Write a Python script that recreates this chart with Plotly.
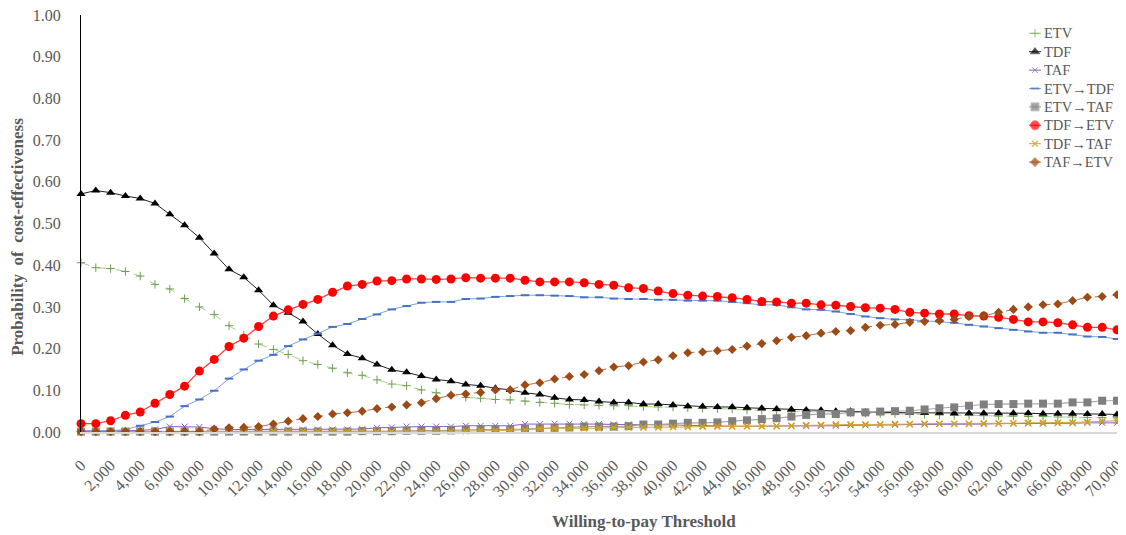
import plotly.graph_objects as go

# Willingness-to-pay thresholds (0 .. 70,000 step 1,000)
wtp = [i * 1000 for i in range(71)]
tick_vals = [i * 2000 for i in range(36)]
tick_labels = ["{:,}".format(v) for v in tick_vals]

etv = [0.406, 0.394, 0.392, 0.385, 0.374, 0.354, 0.343, 0.320, 0.300, 0.282,
       0.255, 0.232, 0.211, 0.198, 0.186, 0.171, 0.162, 0.153, 0.142, 0.136,
       0.125, 0.115, 0.111, 0.101, 0.094, 0.089, 0.083, 0.081, 0.078, 0.077,
       0.074, 0.071, 0.069, 0.066, 0.065, 0.064, 0.063, 0.063, 0.061, 0.060,
       0.060, 0.058, 0.057, 0.056, 0.055, 0.053, 0.052, 0.051, 0.050, 0.049,
       0.048, 0.047, 0.046, 0.045, 0.044, 0.044, 0.043, 0.042, 0.041, 0.040,
       0.040, 0.039, 0.038, 0.038, 0.037, 0.037, 0.036, 0.036, 0.035, 0.035,
       0.034]

tdf = [0.571, 0.579, 0.574, 0.566, 0.560, 0.548, 0.522, 0.496, 0.466, 0.428,
       0.390, 0.371, 0.340, 0.304, 0.286, 0.265, 0.235, 0.208, 0.187, 0.177,
       0.162, 0.149, 0.143, 0.134, 0.126, 0.122, 0.114, 0.111, 0.105, 0.101,
       0.094, 0.090, 0.082, 0.078, 0.077, 0.073, 0.071, 0.071, 0.067, 0.067,
       0.065, 0.062, 0.061, 0.060, 0.060, 0.058, 0.057, 0.055, 0.054, 0.053,
       0.052, 0.050, 0.050, 0.048, 0.047, 0.047, 0.046, 0.046, 0.046, 0.045,
       0.045, 0.045, 0.045, 0.045, 0.045, 0.044, 0.044, 0.044, 0.043, 0.043,
       0.042]

taf = [0.002, 0.002, 0.003, 0.003, 0.004, 0.006, 0.013, 0.013, 0.012, 0.008,
       0.006, 0.006, 0.006, 0.006, 0.006, 0.006, 0.006, 0.006, 0.006, 0.007,
       0.010, 0.011, 0.013, 0.013, 0.013, 0.013, 0.015, 0.015, 0.015, 0.015,
       0.019, 0.019, 0.020, 0.020, 0.019, 0.019, 0.018, 0.018, 0.018, 0.017,
       0.017, 0.016, 0.015, 0.015, 0.014, 0.014, 0.014, 0.014, 0.014, 0.014,
       0.015, 0.015, 0.016, 0.016, 0.017, 0.017, 0.018, 0.018, 0.019, 0.019,
       0.019, 0.019, 0.020, 0.020, 0.020, 0.020, 0.021, 0.021, 0.022, 0.022,
       0.022]

etv_tdf = [0.003, 0.003, 0.003, 0.006, 0.015, 0.024, 0.037, 0.062, 0.078, 0.099,
           0.128, 0.150, 0.171, 0.185, 0.206, 0.222, 0.236, 0.252, 0.259, 0.271,
           0.282, 0.294, 0.302, 0.310, 0.312, 0.312, 0.319, 0.320, 0.324, 0.326,
           0.328, 0.328, 0.327, 0.326, 0.323, 0.323, 0.320, 0.319, 0.319, 0.317,
           0.317, 0.315, 0.315, 0.315, 0.312, 0.309, 0.305, 0.305, 0.299, 0.294,
           0.293, 0.289, 0.283, 0.277, 0.273, 0.270, 0.269, 0.267, 0.265, 0.262,
           0.257, 0.253, 0.249, 0.245, 0.241, 0.238, 0.238, 0.234, 0.229, 0.228,
           0.223]

etv_taf = [0.001, 0.001, 0.001, 0.001, 0.001, 0.001, 0.001, 0.001, 0.001, 0.001,
           0.001, 0.001, 0.001, 0.001, 0.001, 0.001, 0.001, 0.001, 0.001, 0.002,
           0.002, 0.002, 0.003, 0.003, 0.003, 0.004, 0.005, 0.006, 0.006, 0.006,
           0.007, 0.009, 0.010, 0.011, 0.013, 0.013, 0.013, 0.014, 0.018, 0.018,
           0.020, 0.022, 0.022, 0.023, 0.026, 0.028, 0.031, 0.033, 0.037, 0.041,
           0.043, 0.043, 0.047, 0.047, 0.049, 0.050, 0.051, 0.054, 0.057, 0.059,
           0.063, 0.066, 0.067, 0.067, 0.068, 0.068, 0.068, 0.071, 0.071, 0.075,
           0.075]

tdf_etv = [0.020, 0.020, 0.027, 0.040, 0.048, 0.069, 0.090, 0.110, 0.146, 0.174,
           0.205, 0.225, 0.253, 0.278, 0.293, 0.306, 0.318, 0.335, 0.350, 0.354,
           0.362, 0.363, 0.367, 0.367, 0.366, 0.367, 0.370, 0.369, 0.369, 0.369,
           0.364, 0.360, 0.360, 0.360, 0.358, 0.354, 0.352, 0.346, 0.344, 0.338,
           0.332, 0.328, 0.326, 0.325, 0.322, 0.318, 0.313, 0.312, 0.309, 0.309,
           0.305, 0.304, 0.301, 0.298, 0.297, 0.294, 0.287, 0.285, 0.283, 0.283,
           0.279, 0.278, 0.275, 0.270, 0.264, 0.264, 0.262, 0.257, 0.251, 0.251,
           0.245]

tdf_taf = [0.001, 0.001, 0.001, 0.001, 0.001, 0.001, 0.001, 0.001, 0.001, 0.001,
           0.001, 0.001, 0.001, 0.001, 0.001, 0.001, 0.001, 0.001, 0.001, 0.001,
           0.001, 0.001, 0.001, 0.001, 0.001, 0.002, 0.002, 0.003, 0.003, 0.004,
           0.005, 0.008, 0.009, 0.009, 0.009, 0.009, 0.011, 0.011, 0.011, 0.011,
           0.012, 0.012, 0.013, 0.013, 0.013, 0.014, 0.014, 0.014, 0.015, 0.016,
           0.017, 0.018, 0.018, 0.018, 0.018, 0.019, 0.019, 0.020, 0.020, 0.020,
           0.020, 0.021, 0.021, 0.021, 0.022, 0.022, 0.022, 0.023, 0.024, 0.026,
           0.027]

taf_etv = [0.001, 0.001, 0.001, 0.001, 0.001, 0.001, 0.001, 0.001, 0.001, 0.007,
           0.010, 0.011, 0.013, 0.019, 0.026, 0.032, 0.037, 0.043, 0.046, 0.050,
           0.056, 0.060, 0.065, 0.070, 0.080, 0.088, 0.091, 0.095, 0.101, 0.101,
           0.113, 0.118, 0.127, 0.133, 0.138, 0.147, 0.156, 0.159, 0.168, 0.173,
           0.183, 0.190, 0.192, 0.195, 0.198, 0.206, 0.212, 0.219, 0.227, 0.231,
           0.237, 0.241, 0.243, 0.251, 0.256, 0.258, 0.263, 0.265, 0.267, 0.270,
           0.277, 0.279, 0.287, 0.294, 0.300, 0.305, 0.307, 0.315, 0.323, 0.325,
           0.329]

FONT = "Liberation Serif, Times New Roman, serif"
GRAY = "#595959"

series = [
    ("ETV", etv, dict(color="#A9CF8E", width=1, dash="dash"),
     dict(symbol="cross-thin", size=6, color="#6E9E4E", line=dict(color="#6E9E4E", width=1))),
    ("TDF", tdf, dict(color="#222222", width=1),
     dict(symbol="triangle-up", size=8, color="#000000")),
    ("TAF", taf, dict(color="#8A5FBF", width=1),
     dict(symbol="x-thin", size=6, color="#8A5FBF", line=dict(color="#8A5FBF", width=1))),
    ("ETV\u2192TDF", etv_tdf, dict(color="#7FA3DD", width=1),
     dict(symbol="line-ew", size=6, color="#4472C4", line=dict(color="#4472C4", width=2))),
    ("ETV\u2192TAF", etv_taf, dict(color="#A6A6A6", width=1.2),
     dict(symbol="square", size=8, color="#7F7F7F")),
    ("TDF\u2192ETV", tdf_etv, dict(color="#FF4040", width=1.3),
     dict(symbol="circle", size=9, color="#FF0000")),
    ("TDF\u2192TAF", tdf_taf, dict(color="#D9A441", width=1),
     dict(symbol="x-thin", size=6, color="#D4A017", line=dict(color="#D4A017", width=1.5))),
    ("TAF\u2192ETV", taf_etv, dict(color="#B5703F", width=1, dash="dash"),
     dict(symbol="diamond", size=7, color="#9C4A16")),
]

# The page places the figure 8 px from the top-left corner of the window.
OFF = 8
PL, PR, PT, PB = 81, 1117, 15, 432  # plot-area edges in window pixels
W, H = 1126 - OFF, 535 - OFF

fig = go.Figure()
for name, vals, line, marker in series:
    fig.add_trace(go.Scatter(
        x=wtp, y=vals, name=name, mode="lines+markers",
        line=line, marker=marker, cliponaxis=False, showlegend=False,
    ))

# Custom legend (overlay axes in window-pixel units) to match compact row spacing
legend_row0 = 33.3
legend_step = 18.4
annotations = []
for k, (name, vals, line, marker) in enumerate(series):
    yr = legend_row0 + k * legend_step
    m = dict(marker)
    m["size"] = [0, marker.get("size", 7), 0]
    fig.add_trace(go.Scatter(
        x=[1029, 1035, 1041], y=[yr, yr, yr], mode="lines+markers",
        line=dict(color=line["color"], width=line.get("width", 1)),
        marker=m, xaxis="x2", yaxis="y2", cliponaxis=False,
        showlegend=False, hoverinfo="skip",
    ))
    annotations.append(dict(
        text=name, xref="x2", yref="y2", x=1042, y=yr, showarrow=False,
        xanchor="left", yanchor="middle",
        font=dict(family=FONT, size=14.5, color=GRAY),
    ))

annotations += [
    dict(text="<b>Willing-to-pay Threshold</b>", xref="paper", yref="paper",
         x=(644 - PL) / (PR - PL), y=0, yshift=-89, showarrow=False,
         xanchor="center", yanchor="middle",
         font=dict(family=FONT, size=17, color=GRAY)),
    dict(text="<b>Probability  of  cost-effectiveness</b>", xref="paper", yref="paper",
         x=0, xshift=-63, y=0.468, showarrow=False, textangle=-90,
         xanchor="center", yanchor="middle",
         font=dict(family=FONT, size=17, color=GRAY)),
]

fig.update_layout(
    width=W, height=H,
    margin=dict(l=PL - OFF, r=W + OFF - PR, t=PT - OFF, b=H + OFF - PB, pad=0),
    paper_bgcolor="white", plot_bgcolor="white",
    font=dict(family=FONT, color=GRAY, size=16),
    showlegend=False,
    xaxis=dict(
        range=[0, 70000], tickmode="array", tickvals=tick_vals, ticktext=tick_labels,
        tickangle=-45, showgrid=False, zeroline=False, automargin=False,
        showline=True, linecolor="#D9D9D9", linewidth=1.5, ticks="",
        tickfont=dict(family=FONT, size=16, color=GRAY), ticklabelstandoff=16,
        ticklabeloverflow="allow",
    ),
    yaxis=dict(
        range=[0, 1], dtick=0.1, tickformat=".2f", showgrid=False, zeroline=False,
        automargin=False,
        showline=True, linecolor="#000000", linewidth=1.2, ticks="",
        tickfont=dict(family=FONT, size=16, color=GRAY), ticklabelstandoff=16,
        ticklabeloverflow="allow",
    ),
    xaxis2=dict(range=[PL, PR], overlaying="x", visible=False, fixedrange=True),
    yaxis2=dict(range=[PB, PT], overlaying="y", visible=False, fixedrange=True),
    annotations=annotations,
)

fig.write_html("out.html")
